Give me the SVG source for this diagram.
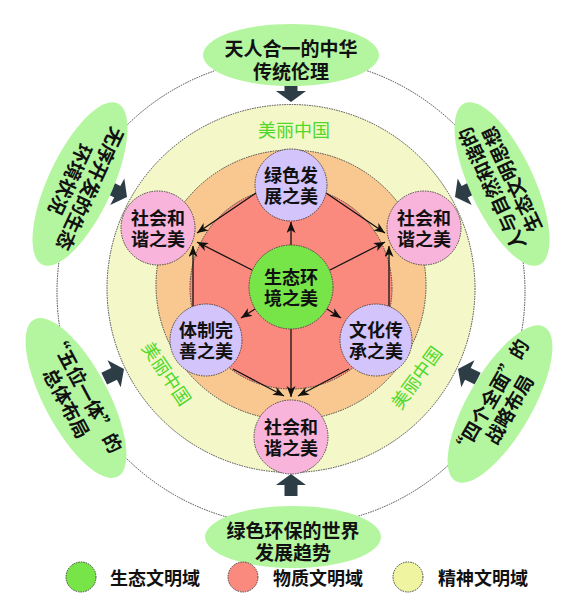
<svg xmlns="http://www.w3.org/2000/svg" width="571" height="608" viewBox="0 0 571 608">
<defs>
<style>
.t{font-family:"Noto Sans CJK SC","Noto Sans",sans-serif;font-weight:bold;font-size:18px;text-anchor:middle;fill:#111}
.t19{font-size:19px}
.mz{font-family:"Noto Sans CJK SC","Noto Sans",sans-serif;font-size:18px;text-anchor:middle;fill:#4fd82a}
.lg{font-family:"Noto Sans CJK SC","Noto Sans",sans-serif;font-weight:bold;font-size:18px;fill:#111}
.dot{stroke:#444;stroke-width:1;stroke-dasharray:1.5 1}
.ell{fill:#b4f6a0}
.blk{fill:#2c3d46}
.conn line{stroke:#111;stroke-width:1.3;marker-end:url(#ah)}
.eco{fill:#77e547}
.mat{fill:#fb8a7e}
.spi{fill:#f4f8c8}
.pur{fill:#d4c4fc}
.pink{fill:#f9b4dc}
</style>
<marker id="ah" markerUnits="userSpaceOnUse" markerWidth="12" markerHeight="10" refX="11" refY="4.5" orient="auto">
<path d="M0,0 L11,4.5 L0,9 L3,4.5 Z" fill="#111"/>
</marker>
<path id="barrow" d="M-6.5,-22 L6.5,-22 L6.5,-11 L15,-11 L0,0 L-15,-11 L-6.5,-11 Z"/>
</defs>

<!-- outer dotted circle -->
<circle cx="291" cy="292" r="234" fill="none" class="dot"/>

<!-- block arrows -->
<g id="block-arrows" class="blk">
<use href="#barrow" transform="translate(291,102)"/>
<use href="#barrow" transform="translate(291,474) rotate(180)"/>
<use href="#barrow" transform="translate(127,197) rotate(-62)"/>
<use href="#barrow" transform="translate(455,197) rotate(62)"/>
<use href="#barrow" transform="translate(124,369) rotate(244)"/>
<use href="#barrow" transform="translate(458,369) rotate(116)"/>
</g>

<!-- outer ellipses -->
<g id="e-top">
<ellipse class="ell" cx="291" cy="55" rx="88" ry="31"/>
<text class="t t19"><tspan x="291" y="55.5">天人合一的中华</tspan><tspan x="291" y="79">传统伦理</tspan></text>
</g>
<g id="e-bottom">
<ellipse class="ell" cx="293" cy="537" rx="88" ry="31"/>
<text class="t t19"><tspan x="293" y="538">绿色环保的世界</tspan><tspan x="293" y="560">发展趋势</tspan></text>
</g>
<g id="e-lefttop" transform="translate(80,184) rotate(115)">
<ellipse class="ell" cx="0" cy="0" rx="89" ry="32"/>
<text class="t t19"><tspan x="0" y="-4">无序开发的生态</tspan><tspan x="0" y="18">环境状况</tspan></text>
</g>
<g id="e-righttop" transform="translate(502,184) rotate(-115)">
<ellipse class="ell" cx="0" cy="0" rx="89" ry="32"/>
<text class="t t19"><tspan x="0" y="-4">人与自然和谐的</tspan><tspan x="0" y="18">生态文明思想</tspan></text>
</g>
<g id="e-leftbottom" transform="translate(76,398) rotate(62)">
<ellipse class="ell" cx="0" cy="0" rx="89" ry="32"/>
<text class="t t19"><tspan x="0" y="-4">“五位一体”的</tspan><tspan x="0" y="18">总体布局</tspan></text>
</g>
<g id="e-rightbottom" transform="translate(500,404) rotate(-60)">
<ellipse class="ell" cx="0" cy="0" rx="89" ry="32"/>
<text class="t t19"><tspan x="0" y="-4">“四个全面”的</tspan><tspan x="0" y="18">战略布局</tspan></text>
</g>

<!-- rings -->
<g id="rings">
<circle class="spi dot" cx="291" cy="288.5" r="184"/>
<circle class="dot" cx="291" cy="285" r="135" fill="#f8c890"/>
<circle class="mat dot" cx="291" cy="288" r="101"/>
</g>
<text class="mz" x="294" y="137">美丽中国</text>
<text class="mz" transform="translate(166,374) rotate(56)" x="0" y="6">美丽中国</text>
<text class="mz" transform="translate(417,378) rotate(-54)" x="0" y="6">美丽中国</text>

<!-- connectors -->
<g id="connectors" class="conn">
<line x1="291" y1="245" x2="291" y2="222"/>
<line x1="255" y1="309" x2="241" y2="318"/>
<line x1="327" y1="309" x2="341" y2="318"/>
<line x1="252" y1="270" x2="197" y2="242"/>
<line x1="330" y1="270" x2="385" y2="242"/>
<line x1="291" y1="329" x2="291" y2="397"/>
<line x1="256" y1="193" x2="197" y2="233"/>
<line x1="326" y1="193" x2="385" y2="233"/>
<line x1="193" y1="306" x2="193" y2="246"/>
<line x1="389" y1="306" x2="389" y2="246"/>
<line x1="233" y1="369" x2="284" y2="396"/>
<line x1="349" y1="369" x2="298" y2="396"/>
</g>

<!-- nodes -->
<g id="n-center">
<circle class="eco dot" cx="291" cy="287" r="42"/>
<text class="t"><tspan x="291" y="283.5">生态环</tspan><tspan x="291" y="304.5">境之美</tspan></text>
</g>
<g id="n-green">
<circle class="pur dot" cx="291" cy="185" r="36"/>
<text class="t"><tspan x="291" y="181.5">绿色发</tspan><tspan x="291" y="202.5">展之美</tspan></text>
</g>
<g id="n-system">
<circle class="pur dot" cx="206" cy="340" r="36"/>
<text class="t"><tspan x="206" y="336.5">体制完</tspan><tspan x="206" y="357.5">善之美</tspan></text>
</g>
<g id="n-culture">
<circle class="pur dot" cx="376" cy="340" r="36"/>
<text class="t"><tspan x="376" y="336.5">文化传</tspan><tspan x="376" y="357.5">承之美</tspan></text>
</g>
<g id="n-left">
<circle class="pink dot" cx="158" cy="228" r="37"/>
<text class="t"><tspan x="158" y="224.5">社会和</tspan><tspan x="158" y="245.5">谐之美</tspan></text>
</g>
<g id="n-right">
<circle class="pink dot" cx="424" cy="228" r="37"/>
<text class="t"><tspan x="424" y="224.5">社会和</tspan><tspan x="424" y="245.5">谐之美</tspan></text>
</g>
<g id="n-bottom">
<circle class="pink dot" cx="291" cy="437" r="37"/>
<text class="t"><tspan x="291" y="433.5">社会和</tspan><tspan x="291" y="454.5">谐之美</tspan></text>
</g>

<!-- legend -->
<g id="legend">
<circle class="eco dot" cx="81" cy="577" r="15"/>
<text class="lg" x="110" y="585">生态文明域</text>
<circle class="mat dot" cx="243" cy="577" r="15"/>
<text class="lg" x="273" y="585">物质文明域</text>
<circle class="dot" cx="408" cy="577" r="15" fill="#eef4a0"/>
<text class="lg" x="438" y="585">精神文明域</text>
</g>
</svg>
